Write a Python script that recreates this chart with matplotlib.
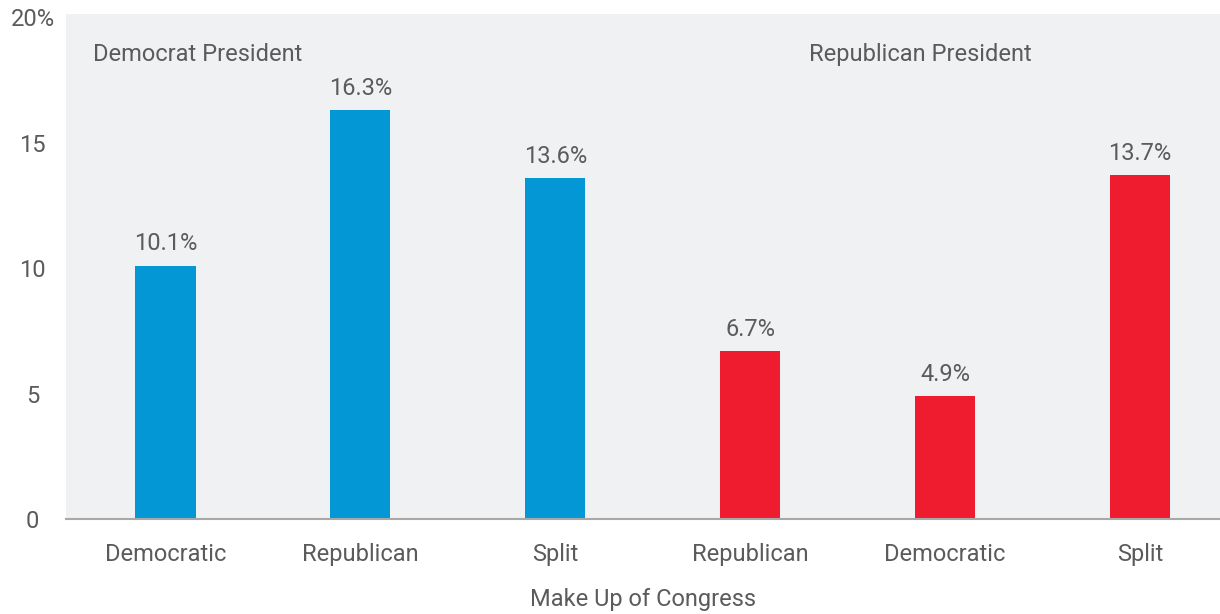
import matplotlib.pyplot as plt

# Rendite nach Zusammensetzung von Präsident / Kongress
categories = ['Democratic', 'Republican', 'Split', 'Republican', 'Democratic', 'Split']
values = [10.1, 16.3, 13.6, 6.7, 4.9, 13.7]
bar_colors = ['#0497d5', '#0497d5', '#0497d5', '#ee1c2e', '#ee1c2e', '#ee1c2e']
yticks = [0, 5, 10, 15, 20]
ytick_labels = ['0', '5', '10', '15', '20%']

text_color = '#5b5b5b'
plt.rcParams['font.family'] = ['Roboto', 'DejaVu Sans']

fig = plt.figure(figsize=(12.2, 6.14), dpi=100)
ax = fig.add_axes([0.054, 0.1547, 0.946, 0.8225])
ax.set_facecolor('#f0f1f3')

x = range(len(values))
bars = ax.bar(x, values, width=0.31, color=bar_colors, zorder=2)

for bar, val in zip(bars, values):
    ax.text(bar.get_x() + bar.get_width() / 2, val + 0.4, f'{val:.1f}%',
            ha='center', va='bottom', fontsize=17, color=text_color)

ax.text(-0.37, 18.5, 'Democrat President', ha='left', va='center',
        fontsize=17, color=text_color)
ax.text(3.30, 18.5, 'Republican President', ha='left', va='center',
        fontsize=17, color=text_color)

ax.set_xlim(-0.51, 5.41)
ax.set_ylim(0, 20.12)
ax.set_xticks(list(x))
ax.set_xticklabels(categories, fontsize=17, color=text_color)
ax.set_yticks(yticks)
ax.set_yticklabels(ytick_labels, fontsize=17, color=text_color)
ax.tick_params(axis='both', length=0)
ax.tick_params(axis='x', pad=17)
ax.tick_params(axis='y', pad=24)
for lbl in ax.get_yticklabels():
    lbl.set_horizontalalignment('center')

ax.set_xlabel('Make Up of Congress', fontsize=17, color=text_color, labelpad=16)

for side in ['top', 'right', 'left']:
    ax.spines[side].set_visible(False)
ax.spines['bottom'].set_color('#a8a8a8')
ax.spines['bottom'].set_linewidth(1.5)

fig.savefig('out.png', dpi=100)
